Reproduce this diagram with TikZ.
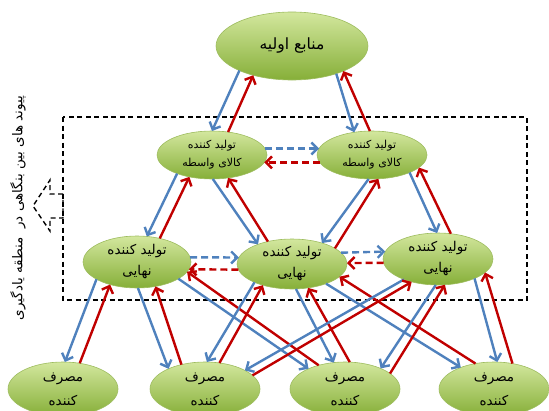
\documentclass[tikz,border=0pt]{standalone}
\usepackage{fontspec}
\usepackage{tikz}
\usetikzlibrary{arrows.meta,shapes.geometric}
\TeXXeTstate=1
\newfontfamily\farsi[Script=Arabic]{DejaVu Sans}
\newcommand{\fa}[1]{\beginR #1\endR}
\definecolor{flowblue}{HTML}{4F81BD}
\definecolor{flowred}{HTML}{C00000}
\definecolor{nodetop}{HTML}{D3E79E}
\definecolor{nodebot}{HTML}{86AF38}
\definecolor{nodeedge}{HTML}{9DBC5E}

\begin{document}
\begin{tikzpicture}[x=1pt,y=-1pt,
        oval/.style={ellipse,top color=nodetop,bottom color=nodebot,draw=nodeedge,line width=0.6pt,
                     inner sep=-8pt,outer sep=0pt,align=center,text=black},
        blu/.style={draw=flowblue,line width=2.4pt,-{Straight Barb[length=6pt,width=12pt]}},
        rd/.style={draw=flowred,line width=2.4pt,-{Straight Barb[length=6pt,width=12pt]}},
        dsh/.style={dash pattern=on 7pt off 4pt},
        frame/.style={black,line width=1.4pt,dash pattern=on 5pt off 3.5pt}]
    \useasboundingbox (0,0) rectangle (549,410);

    \draw[frame] (63,117) rectangle (527,300);
    \draw[frame] (63,194) -- (50,194) -- (50,180) -- (33,206) -- (50,231) -- (50,218) -- (63,218) -- cycle;
    \node[rotate=90,font=\farsi\fontsize{13.5}{15}\selectfont] (note) at (18,208) {\fa{پیوند های بین بنگاهی در\ \ منطقه یادگیری}};

    \node[oval,minimum width=152pt,minimum height=68pt,font=\farsi\fontsize{15.5}{18}\selectfont] (src) at (292,46) {\fa{منابع اولیه}};

    \node[oval,minimum width=110pt,minimum height=48pt,font=\farsi\fontsize{11}{18}\selectfont] (ml) at (212,155) {\fa{تولید کننده}\\\fa{کالای واسطه}};
    \node[oval,minimum width=110pt,minimum height=48pt,font=\farsi\fontsize{11}{18}\selectfont] (mr) at (372,155) {\fa{تولید کننده}\\\fa{کالای واسطه}};

    \node[oval,minimum width=108pt,minimum height=52pt,font=\farsi\fontsize{13.5}{21}\selectfont] (bl) at (137,262) {\fa{تولید کننده}\\\fa{نهایی}};
    \node[oval,minimum width=110pt,minimum height=50pt,font=\farsi\fontsize{13.5}{21}\selectfont] (bm) at (292,264) {\fa{تولید کننده}\\\fa{نهایی}};
    \node[oval,minimum width=110pt,minimum height=52pt,font=\farsi\fontsize{13.5}{21}\selectfont] (br) at (438,259) {\fa{تولید کننده}\\\fa{نهایی}};

    \node[oval,minimum width=110pt,minimum height=54pt,font=\farsi\fontsize{13.5}{24}\selectfont] (c1) at (63,389) {\fa{مصرف}\\\fa{کننده}};
    \node[oval,minimum width=110pt,minimum height=54pt,font=\farsi\fontsize{13.5}{24}\selectfont] (c2) at (205,389) {\fa{مصرف}\\\fa{کننده}};
    \node[oval,minimum width=110pt,minimum height=54pt,font=\farsi\fontsize{13.5}{24}\selectfont] (c3) at (345,389) {\fa{مصرف}\\\fa{کننده}};
    \node[oval,minimum width=110pt,minimum height=54pt,font=\farsi\fontsize{13.5}{24}\selectfont] (c4) at (494,389) {\fa{مصرف}\\\fa{کننده}};

    \draw[blu] (src.205) -- (ml.90);
    \draw[rd] (ml.55) -- (src.217);
    \draw[blu] (src.328) -- (mr.128);
    \draw[rd] (mr.95) -- (src.334);

    \draw[blu,dsh] (ml.7) -- (mr.173);
    \draw[rd,dsh] (mr.188) -- (ml.352);

    \draw[blu] (ml.208) -- (bl.69);
    \draw[rd] (bl.46) -- (ml.224);
    \draw[blu] (ml.272) -- (bm.150);
    \draw[rd] (bm.137) -- (ml.305);
    \draw[blu] (mr.262) -- (bm.35);
    \draw[rd] (bm.20) -- (mr.285);
    \draw[blu] (mr.335) -- (br.92);
    \draw[rd] (br.63) -- (mr.345);

    \draw[blu,dsh] (bl.5) -- (bm.173);
    \draw[rd,dsh] (bm.186) -- (bl.352);
    \draw[blu,dsh] (bm.13) -- (br.172);
    \draw[rd,dsh] (br.184) -- (bm.1);

    \draw[blu] (bl.203) -- (c1.86);
    \draw[rd] (c1.57) -- (bl.220);
    \draw[blu] (bl.272) -- (c2.151);
    \draw[rd] (c2.134) -- (bl.307);
    \draw[blu] (bl.338) -- (c3.151);
    \draw[rd] (c3.138) -- (bl.349);
    \draw[blu] (bm.206) -- (c2.86);
    \draw[rd] (c2.61) -- (bm.216);
    \draw[blu] (bm.279) -- (c3.113);
    \draw[rd] (c3.80) -- (bm.304);
    \draw[blu] (bm.330) -- (c4.147);
    \draw[rd] (c4.126) -- (bm.345);
    \draw[blu] (br.211) -- (c2.25);
    \draw[rd] (c2.16) -- (br.221);
    \draw[blu] (br.265) -- (c3.30);
    \draw[rd] (c3.19) -- (br.285);
    \draw[blu] (br.332) -- (c4.83);
    \draw[rd] (c4.54) -- (br.344);
\end{tikzpicture}
\end{document}
